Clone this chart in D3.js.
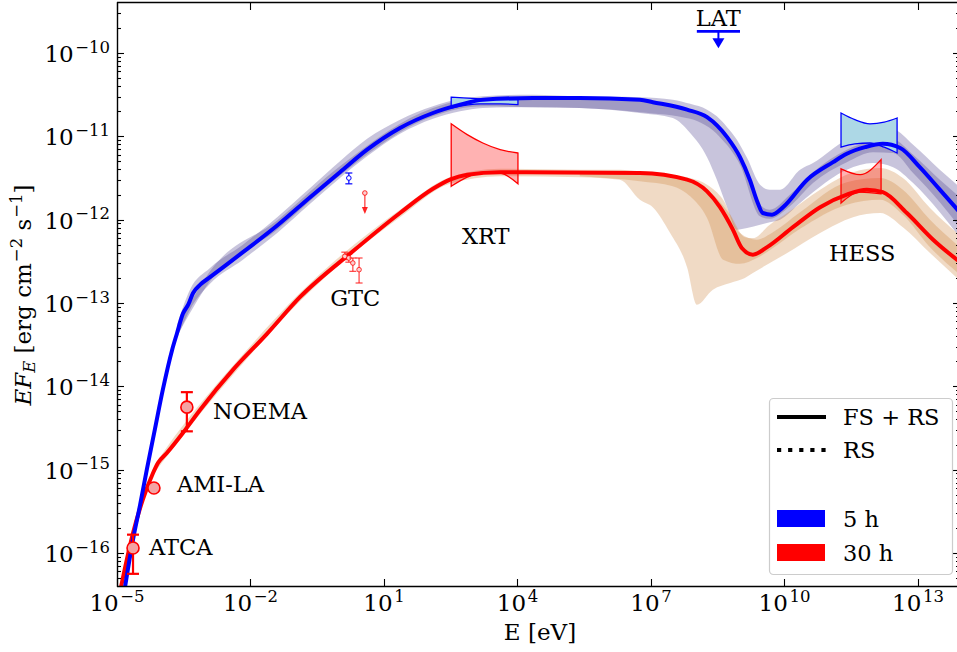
<!DOCTYPE html>
<html><head><meta charset="utf-8">
<script src="https://cdnjs.cloudflare.com/ajax/libs/d3/7.8.5/d3.min.js"></script>
<style>html,body{margin:0;padding:0;background:#fff;overflow:hidden}svg{display:block}text{font-family:"DejaVu Serif",serif;fill:#000}</style>
</head><body><svg id="c" width="957" height="652"></svg>
<script>
// All values are [log10 E/eV, log10 EF_E/(erg cm^-2 s^-1)]
const line5h = [[-4.82,-16.41],[-4.64,-15.84],[-4.48,-15.42],[-4.33,-15.00],[-4.15,-14.52],[-3.97,-14.04],[-3.76,-13.56],[-3.65,-13.36],[-3.52,-13.13],[-3.40,-13.02],[-3.29,-12.88],[-3.13,-12.78],[-2.91,-12.69],[-2.17,-12.39],[-1.40,-12.07],[-0.66,-11.73],[0.01,-11.43],[0.62,-11.16],[1.36,-10.90],[2.10,-10.72],[2.71,-10.62],[3.22,-10.56],[4.35,-10.54],[5.40,-10.54],[6.75,-10.56],[7.04,-10.59],[7.81,-10.68],[8.26,-10.77],[8.71,-11.01],[9.00,-11.25],[9.22,-11.52],[9.40,-11.80],[9.51,-11.92],[9.72,-11.94],[9.97,-11.85],[10.51,-11.52],[11.09,-11.31],[11.40,-11.21],[11.81,-11.13],[12.21,-11.09],[12.60,-11.14],[13.04,-11.37],[13.49,-11.64],[13.92,-11.90]];
const line30h = [[-4.91,-16.41],[-4.78,-16.08],[-4.64,-15.76],[-4.42,-15.36],[-4.19,-15.04],[-4.08,-14.92],[-3.88,-14.80],[-3.52,-14.56],[-3.13,-14.28],[-2.39,-13.80],[-1.63,-13.37],[-0.89,-12.93],[0.30,-12.38],[1.36,-11.92],[2.10,-11.63],[2.48,-11.52],[2.87,-11.46],[3.61,-11.43],[6.75,-11.44],[7.81,-11.52],[8.26,-11.66],[8.55,-11.85],[8.84,-12.12],[9.04,-12.34],[9.29,-12.42],[9.61,-12.33],[10.19,-12.09],[10.80,-11.85],[11.40,-11.70],[11.85,-11.64],[12.21,-11.67],[12.75,-11.92],[13.34,-12.24],[13.92,-12.50]];
// bands: [log10 E, log10 low, log10 high]
const band5hOuter = [[-3.65,-13.42,-13.26],[-3.36,-13.08,-12.84],[-2.91,-12.77,-12.58],[-2.17,-12.48,-12.30],[-1.40,-12.16,-11.97],[-0.66,-11.81,-11.62],[0.01,-11.50,-11.30],[0.62,-11.24,-11.03],[1.36,-10.97,-10.80],[2.10,-10.79,-10.64],[2.71,-10.70,-10.55],[3.22,-10.66,-10.52],[4.35,-10.65,-10.50],[5.40,-10.66,-10.52],[6.75,-10.72,-10.53],[7.49,-10.78,-10.56],[7.88,-10.96,-10.61],[8.26,-11.25,-10.68],[8.48,-11.52,-10.76],[8.71,-11.85,-10.89],[8.93,-12.12,-11.04],[9.16,-12.10,-11.26],[9.45,-12.06,-11.58],[9.67,-12.03,-11.64],[9.90,-12.00,-11.64],[10.35,-11.80,-11.40],[10.64,-11.67,-11.32],[11.40,-11.40,-11.04],[11.99,-11.32,-10.95],[12.44,-11.37,-10.92],[12.89,-11.56,-11.10],[13.49,-11.91,-11.40],[13.92,-12.20,-11.60]];
const band5hInner = [[-3.65,-13.40,-13.30],[-2.91,-12.74,-12.62],[-1.40,-12.12,-12.01],[0.01,-11.47,-11.36],[2.10,-10.76,-10.66],[3.22,-10.64,-10.54],[4.35,-10.65,-10.54],[5.40,-10.66,-10.55],[6.75,-10.71,-10.58],[7.88,-10.79,-10.68],[8.55,-11.01,-10.90],[9.00,-11.34,-11.22],[9.45,-11.96,-11.82],[9.67,-11.99,-11.88],[10.12,-11.84,-11.70],[10.64,-11.56,-11.43],[11.40,-11.31,-11.16],[11.99,-11.19,-11.06],[12.44,-11.20,-11.04],[12.89,-11.44,-11.22],[13.49,-11.79,-11.52],[13.92,-12.08,-11.72]];
const band30hOuter = [[-4.15,-15.03,-14.94],[-3.88,-14.84,-14.73],[-3.13,-14.33,-14.21],[-2.39,-13.86,-13.75],[-0.89,-12.98,-12.88],[1.36,-11.97,-11.88],[2.48,-11.57,-11.49],[3.61,-11.48,-11.39],[5.40,-11.49,-11.40],[6.30,-11.52,-11.40],[6.75,-11.76,-11.42],[7.04,-11.85,-11.43],[7.43,-12.16,-11.46],[7.81,-12.57,-11.51],[8.03,-13.02,-11.56],[8.39,-12.84,-11.70],[8.78,-12.76,-11.94],[9.11,-12.70,-12.21],[9.29,-12.64,-12.22],[9.67,-12.52,-12.06],[10.06,-12.40,-11.92],[10.80,-12.16,-11.64],[11.54,-11.97,-11.43],[12.15,-11.92,-11.38],[12.66,-12.09,-11.50],[13.27,-12.40,-11.86],[13.92,-12.72,-12.18]];
const band30hInner = [[5.40,-11.48,-11.43],[6.75,-11.54,-11.43],[7.49,-11.60,-11.46],[7.88,-11.72,-11.50],[8.26,-11.98,-11.58],[8.62,-12.48,-11.76],[9.00,-12.53,-12.16],[9.38,-12.46,-12.24],[9.74,-12.34,-12.15],[10.35,-12.11,-11.91],[11.40,-11.82,-11.55],[12.15,-11.76,-11.50],[12.66,-11.94,-11.64],[13.27,-12.33,-12.00],[13.92,-12.65,-12.32]];
// butterflies: [log10 E, log10 low, log10 high]
const xrt5h = [[2.51,-10.66,-10.53],[3.16,-10.61,-10.55],[3.61,-10.61,-10.56],[4.01,-10.62,-10.56]];
const xrt30h = [[2.51,-11.60,-10.85],[2.87,-11.49,-10.98],[3.22,-11.43,-11.08],[3.61,-11.44,-11.16],[4.01,-11.57,-11.20]];
const hess5h = [[11.27,-11.13,-10.72],[11.58,-11.09,-10.80],[11.92,-11.08,-10.85],[12.24,-11.13,-10.83],[12.53,-11.20,-10.78]];
const hess30h = [[11.27,-11.80,-11.39],[11.70,-11.67,-11.46],[12.17,-11.69,-11.28]];
// radio points: [log10 E, log10 F, log10 low, log10 high]
const radioPts = [[-4.64,-15.94,-16.25,-15.78],[-4.17,-15.22,-15.22,-15.22],[-3.43,-14.25,-14.54,-14.07]];
const gtc30h = [[0.12,-12.44,-12.48,-12.39],[0.21,-12.46,-12.51,-12.41],[0.30,-12.52,-12.62,-12.46],[0.44,-12.60,-12.76,-12.46]];
const gtc5h = [[0.21,-11.50,-11.57,-11.44]];
const ul30h = [[0.57,-11.68]];
const latUL = [8.03, 9.00, -9.74];
const annotations = [["NOEMA",-2.84,-14.39,"start"],["AMI-LA",-3.65,-15.27,"start"],["ATCA",-4.28,-16.02,"start"],["GTC",-0.21,-13.04,"start"],["XRT",2.75,-12.29,"start"],["HESS",11.0,-12.50,"start"],["LAT",8.51,-9.68,"middle"]];
const xTickExp = [-5,-2,1,4,7,10,13];
const yTickExp = [-16,-15,-14,-13,-12,-11,-10];
const legendLines = [["FS + RS","solid"],["RS","dotted"]];
const legendPatches = [["5 h","#0000ff"],["30 h","#ff0000"]];

const L=117,R=960,T=3,B=586;
const FS=23, SUP=16.5;
const P = v => Math.pow(10,v);
const x = d3.scaleLog().domain([1e-5, P(-5+(R-L)/44.5)]).range([L,R]);
const y = d3.scaleLog().domain([P(-16.396), P(-9.4)]).range([B,T]);
const svg = d3.select("#c");
svg.append("defs").append("clipPath").attr("id","clip").append("rect")
  .attr("x",L).attr("y",T).attr("width",R-L).attr("height",B-T);
const g = svg.append("g").attr("clip-path","url(#clip)");
const lineGen = d3.line().x(d=>x(P(d[0]))).y(d=>y(P(d[1]))).curve(d3.curveMonotoneX);
const areaGen = d3.area().x(d=>x(P(d[0]))).y0(d=>y(P(d[1]))).y1(d=>y(P(d[2]))).curve(d3.curveMonotoneX);

[[band5hOuter,"#483d8b"],[band5hInner,"#483d8b"],[band30hOuter,"#cd853f"],[band30hInner,"#cd853f"]].forEach(([d,c])=>{
  g.append("path").attr("d",areaGen(d)).attr("fill",c).attr("fill-opacity",0.3).attr("stroke","none");
});
[[xrt5h,"#add8e6","#0000ff",1],[hess5h,"#add8e6","#0000ff",1],[xrt30h,"#ff0000","#ff0000",0.3],[hess30h,"#ff0000","#ff0000",0.3]].forEach(([d,f,s,o])=>{
  g.append("path").attr("d",areaGen(d)).attr("fill",f).attr("fill-opacity",o).attr("stroke",s).attr("stroke-width",1.3);
});
g.append("path").attr("d",lineGen(line30h)).attr("fill","none").attr("stroke","#ff0000").attr("stroke-width",4).attr("stroke-linejoin","round");
g.append("path").attr("d",lineGen(line5h)).attr("fill","none").attr("stroke","#0000ff").attr("stroke-width",4).attr("stroke-linejoin","round");

radioPts.forEach(d=>{
  const cx=x(P(d[0]));
  if(d[2]!==d[3]){
    g.append("line").attr("x1",cx).attr("x2",cx).attr("y1",y(P(d[2]))).attr("y2",y(P(d[3]))).attr("stroke","#ff0000").attr("stroke-width",2.2);
    [d[2],d[3]].forEach(v=>g.append("line").attr("x1",cx-6).attr("x2",cx+6).attr("y1",y(P(v))).attr("y2",y(P(v))).attr("stroke","#ff0000").attr("stroke-width",2.2));
  }
  g.append("circle").attr("cx",cx).attr("cy",y(P(d[1]))).attr("r",6).attr("fill","#f4a3a3").attr("stroke","#ff0000").attr("stroke-width",1.6);
});
function smallPts(arr,col,fill){
  arr.forEach(d=>{
    const cx=x(P(d[0]));
    g.append("line").attr("x1",cx).attr("x2",cx).attr("y1",y(P(d[2]))).attr("y2",y(P(d[3]))).attr("stroke",col).attr("stroke-width",1.2);
    [d[2],d[3]].forEach(v=>g.append("line").attr("x1",cx-3.5).attr("x2",cx+3.5).attr("y1",y(P(v))).attr("y2",y(P(v))).attr("stroke",col).attr("stroke-width",1.2));
    g.append("circle").attr("cx",cx).attr("cy",y(P(d[1]))).attr("r",2.3).attr("fill",fill).attr("stroke",col).attr("stroke-width",1);
  });
}
smallPts(gtc30h,"rgba(255,0,0,0.75)","#fbd0d0");
smallPts(gtc5h,"#0000ff","#ffffff");
ul30h.forEach(d=>{
  const cx=x(P(d[0])), cy=y(P(d[1]));
  g.append("line").attr("x1",cx).attr("x2",cx).attr("y1",cy).attr("y2",cy+15).attr("stroke","rgba(255,0,0,0.8)").attr("stroke-width",1.2);
  g.append("path").attr("d",`M${cx-3},${cy+14}L${cx+3},${cy+14}L${cx},${cy+21}Z`).attr("fill","rgba(255,0,0,0.85)");
  g.append("circle").attr("cx",cx).attr("cy",cy).attr("r",2.3).attr("fill","#fbd0d0").attr("stroke","rgba(255,0,0,0.8)").attr("stroke-width",1);
});
{
  const x1=x(P(latUL[0])), x2=x(P(latUL[1])), cy=y(P(latUL[2])), cx=(x1+x2)/2;
  svg.append("line").attr("x1",x1).attr("x2",x2).attr("y1",cy).attr("y2",cy).attr("stroke","#0000ff").attr("stroke-width",2.6);
  svg.append("line").attr("x1",cx).attr("x2",cx).attr("y1",cy).attr("y2",cy+8).attr("stroke","#0000ff").attr("stroke-width",2);
  svg.append("path").attr("d",`M${cx-6},${cy+7}L${cx+6},${cy+7}L${cx},${cy+17}Z`).attr("fill","#0000ff");
}
annotations.forEach(a=>{
  svg.append("text").attr("x",x(P(a[1]))).attr("y",y(P(a[2]))).attr("text-anchor",a[3]).attr("font-size",22.5).text(a[0]);
});

// ticks
const tk = svg.append("g").attr("stroke","#000").attr("stroke-width",1.1);
xTickExp.forEach(e=>{
  const px=Math.round(x(P(e)))+0.5;
  tk.append("line").attr("x1",px).attr("x2",px).attr("y1",B).attr("y2",B-7);
  tk.append("line").attr("x1",px).attr("x2",px).attr("y1",T).attr("y2",T+7);
});
const yMinor=[];
for(let e=-17;e<=-10;e++) for(let m=2;m<=9;m++){const v=m*P(e); if(v>y.domain()[0]&&v<y.domain()[1]) yMinor.push(v);}
yTickExp.forEach(e=>{
  const py=Math.round(y(P(e)))+0.5;
  tk.append("line").attr("x1",L).attr("x2",L+7).attr("y1",py).attr("y2",py);
  tk.append("line").attr("x1",R).attr("x2",R-7).attr("y1",py).attr("y2",py);
});
yMinor.forEach(v=>{
  const py=Math.round(y(v))+0.5;
  tk.append("line").attr("x1",L).attr("x2",L+4).attr("y1",py).attr("y2",py);
  tk.append("line").attr("x1",R).attr("x2",R-4).attr("y1",py).attr("y2",py);
});
const sp = svg.append("g").attr("stroke","#000").attr("stroke-width",1.4);
sp.append("line").attr("x1",L+0.5).attr("x2",L+0.5).attr("y1",T-1).attr("y2",B+1);
sp.append("line").attr("x1",L).attr("x2",R+1).attr("y1",T-0.5).attr("y2",T-0.5);
sp.append("line").attr("x1",L).attr("x2",R+1).attr("y1",B+0.5).attr("y2",B+0.5);

// tick labels
xTickExp.forEach(e=>{
  const t=svg.append("text").attr("x",x(P(e))).attr("y",611).attr("text-anchor","middle").attr("font-size",FS);
  t.append("tspan").text("10");
  t.append("tspan").attr("dx",1.5).attr("dy",-9.5).attr("font-size",SUP).text(e<0?"\u2212"+(-e):String(e));
});
yTickExp.forEach(e=>{
  const t=svg.append("text").attr("x",110).attr("y",y(P(e))+9).attr("text-anchor","end").attr("font-size",FS);
  t.append("tspan").text("10");
  t.append("tspan").attr("dx",1.5).attr("dy",-9.5).attr("font-size",SUP).text("\u2212"+(-e));
});
svg.append("text").attr("x",540).attr("y",640).attr("text-anchor","middle").attr("font-size",FS).text("E [eV]");
{
  const t=svg.append("text").attr("transform","translate(31,295) rotate(-90)").attr("text-anchor","middle").attr("font-size",FS);
  t.append("tspan").attr("font-style","italic").text("EF");
  t.append("tspan").attr("font-style","italic").attr("font-size",SUP).attr("dy",4).text("E");
  t.append("tspan").attr("dy",-4).text(" [erg cm");
  t.append("tspan").attr("font-size",SUP).attr("dy",-9.5).attr("dx",1).text("\u22122");
  t.append("tspan").attr("dy",9.5).text(" s");
  t.append("tspan").attr("font-size",SUP).attr("dy",-9.5).attr("dx",1).text("\u22121");
  t.append("tspan").attr("dy",9.5).text("]");
}
// legend
{
  const lg=svg.append("g");
  lg.append("rect").attr("x",769.5).attr("y",398.5).attr("width",183).attr("height",176).attr("rx",4).attr("fill","#fff").attr("fill-opacity",0.8).attr("stroke","#cccccc").attr("stroke-width",1.2);
  legendLines.forEach((d,i)=>{
    const yy=417+i*33;
    lg.append("line").attr("x1",777).attr("x2",826).attr("y1",yy).attr("y2",yy).attr("stroke","#000").attr("stroke-width",4)
      .attr("stroke-dasharray",d[1]==="dotted"?"4.2,6.9":null);
    lg.append("text").attr("x",843).attr("y",yy+8).attr("font-size",22.5).text(d[0]);
  });
  legendPatches.forEach((d,i)=>{
    const yy=510+i*34;
    lg.append("rect").attr("x",777).attr("y",yy).attr("width",48).attr("height",17).attr("fill",d[1]);
    lg.append("text").attr("x",843).attr("y",yy+17).attr("font-size",22.5).text(d[0]);
  });
}
</script></body></html>
